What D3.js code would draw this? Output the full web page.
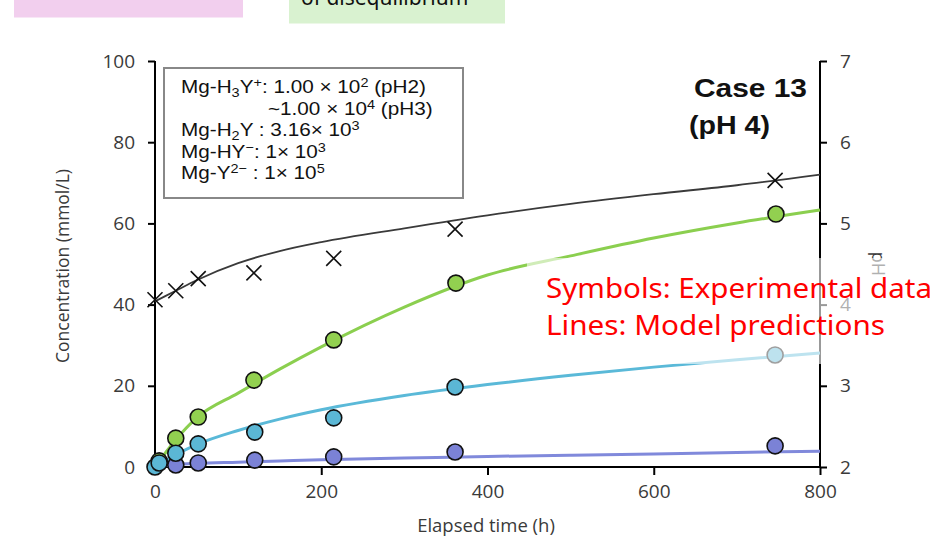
<!DOCTYPE html>
<html><head><meta charset="utf-8">
<script src="https://cdn.jsdelivr.net/npm/d3@7"></script>
<style>body{margin:0;background:#fff}svg{display:block}</style>
</head><body>
<svg id="c" width="952" height="539"></svg>
<script>
// ---- data ----
const xTicks = [0, 200, 400, 600, 800];
const yTicks = [0, 20, 40, 60, 80, 100];
const phTicks = [2, 3, 4, 5, 6, 7];

// experimental
const expTimeGreen = [5, 25, 52, 119, 215, 362, 747];
const expGreen     = [1.5, 7.1, 12.3, 21.4, 31.3, 45.3, 62.3];
const expTimeCyan  = [0, 5, 25, 52, 120, 215, 361, 746];
const expCyan      = [0, 1.0, 3.4, 5.7, 8.6, 12.1, 19.7, 27.6];
const expTimePurple= [25, 52, 120, 215, 361, 746];
const expPurple    = [0.5, 1.0, 1.7, 2.5, 3.7, 5.2];
const expTimePH    = [0, 25, 52, 119, 215, 361, 746];
const expPH        = [4.06, 4.17, 4.32, 4.39, 4.57, 4.93, 5.53];

// model
const modelTime   = [0, 25, 50, 100, 150, 200, 300, 400, 500, 600, 700, 800];
const modelGreen  = [0, 6.7, 12.1, 18.2, 24.1, 29.6, 39.4, 47.3, 52.0, 56.4, 60.1, 63.3];
const modelCyan   = [0, 3.0, 5.5, 9.0, 11.8, 14.1, 17.6, 20.3, 22.6, 24.6, 26.4, 28.1];
const modelPurple = [0, 0.6, 0.9, 1.2, 1.5, 1.8, 2.2, 2.6, 2.9, 3.2, 3.6, 3.9];
const modelPH     = [4.04, 4.17, 4.30, 4.51, 4.66, 4.77, 4.94, 5.10, 5.24, 5.36, 5.47, 5.60];

const svg = d3.select("#c");
const x = d3.scaleLinear().domain([0, 800]).range([155, 820]);
const y = d3.scaleLinear().domain([0, 100]).range([467, 61]);
const yp = d3.scaleLinear().domain([2, 7]).range([467, 61]);

// top decorations
svg.append("rect").attr("x",14).attr("y",0).attr("width",229).attr("height",17.5).attr("fill","#f2cfee");
svg.append("rect").attr("x",289).attr("y",0).attr("width",216).attr("height",23.5).attr("fill","#d9f2d0");
svg.append("text").attr("x",301).attr("y",5).attr("font-family","Noto Sans").attr("font-size",21).attr("fill","#111").text("of disequilibrium");

// axes
const tickFont = "Open Sans";
const ax = svg.append("g").attr("transform","translate(0,467)").call(d3.axisBottom(x).tickValues(xTicks).tickSize(8).tickPadding(10));
const ay = svg.append("g").attr("transform","translate(155,0)").call(d3.axisLeft(y).tickValues(yTicks).tickSize(7).tickPadding(13));
const ayp = svg.append("g").attr("transform","translate(820,0)").call(d3.axisRight(yp).tickValues(phTicks).tickFormat(d3.format("d")).tickSize(7).tickPadding(13));
[ax, ay, ayp].forEach(g => {
  g.selectAll("path.domain").attr("stroke","#000").attr("stroke-width",2);
  g.selectAll(".tick line").attr("stroke","#000").attr("stroke-width",2);
  g.selectAll("text").attr("font-family",tickFont).attr("font-size",19).attr("fill","#3a3a3a");
});
ax.select("path.domain").attr("d","M155,0H820");
ay.select("path.domain").attr("d","M0,61V467");
ayp.select("path.domain").attr("d","M0,61V467");

// axis titles
svg.append("text").attr("x",486).attr("y",532).attr("text-anchor","middle")
  .attr("font-family",tickFont).attr("font-size",18.5).attr("fill","#3a3a3a").text("Elapsed time (h)");
svg.append("text").attr("transform","translate(69,266) rotate(-90)").attr("text-anchor","middle")
  .attr("font-family",tickFont).attr("font-size",17.5).attr("fill","#3a3a3a").text("Concentration (mmol/L)");
svg.append("text").attr("transform","translate(872,264) rotate(90)").attr("text-anchor","middle")
  .attr("font-family",tickFont).attr("font-size",18).attr("fill","#3a3a3a").text("pH");

// model lines
const line = (sc, vals) => d3.line().x((d,i)=>x(modelTime[i])).y(d=>sc(d)).curve(d3.curveMonotoneX)(vals);
svg.append("path").attr("d",line(yp, modelPH)).attr("fill","none").attr("stroke","#3a3a3a").attr("stroke-width",1.8);
svg.append("path").attr("d",line(y, modelGreen)).attr("fill","none").attr("stroke","#8bcf4f").attr("stroke-width",3);
svg.append("path").attr("d",line(y, modelCyan)).attr("fill","none").attr("stroke","#5ab9d8").attr("stroke-width",3);
svg.append("path").attr("d",line(y, modelPurple)).attr("fill","none").attr("stroke","#8089db").attr("stroke-width",3);

// crosses
const cr = 7.5;
svg.append("g").selectAll("path").data(expPH).join("path")
  .attr("d",(d,i)=>{const cx=x(expTimePH[i]), cy=yp(d);return `M${cx-cr},${cy-cr}L${cx+cr},${cy+cr}M${cx-cr},${cy+cr}L${cx+cr},${cy-cr}`;})
  .attr("stroke","#111").attr("stroke-width",1.6).attr("fill","none");

// circles
function dots(times, vals, fill){
  svg.append("g").selectAll("circle").data(vals).join("circle")
    .attr("cx",(d,i)=>x(times[i])).attr("cy",d=>y(d)).attr("r",8)
    .attr("fill",fill).attr("stroke","#111").attr("stroke-width",1.6);
}
dots(expTimeGreen, expGreen, "#92d050");
dots(expTimePurple, expPurple, "#7b82d6");
dots(expTimeCyan, expCyan, "#5bb7d5");

// constants box
svg.append("rect").attr("x",164).attr("y",68).attr("width",299).attr("height",130)
  .attr("fill","#fff").attr("stroke","#888").attr("stroke-width",2);
const lf = "Liberation Sans", fs = 18.5;
function ltext(xp, yb, parts){
  const t = svg.append("g").attr("transform",`translate(${xp},${yb}) scale(1.12,1)`)
    .append("text").attr("x",0).attr("y",0).attr("font-family",lf).attr("font-size",fs).attr("fill","#111");
  parts.forEach(p=>{
    const s = t.append("tspan").text(p[0]);
    if(p[1]==="sub") s.attr("font-size",fs*0.7).attr("baseline-shift","-25%");
    if(p[1]==="sup") s.attr("font-size",fs*0.7).attr("baseline-shift","45%");
  });
}
ltext(181, 93, [["Mg-H"],["3","sub"],["Y"],["+","sup"],[": 1.00 × 10"],["2","sup"],[" (pH2)"]]);
ltext(268, 114.5, [["~1.00 × 10"],["4","sup"],[" (pH3)"]]);
ltext(181, 136, [["Mg-H"],["2","sub"],["Y : 3.16× 10"],["3","sup"]]);
ltext(181, 157.5, [["Mg-HY"],["−","sup"],[": 1× 10"],["3","sup"]]);
ltext(181, 179, [["Mg-Y"],["2−","sup"],[" : 1× 10"],["5","sup"]]);

// case label
svg.append("g").attr("transform","translate(807,97) scale(1.15,1)").append("text").attr("text-anchor","end").attr("font-family","Liberation Sans")
  .attr("font-weight","bold").attr("font-size",26).attr("fill","#111").text("Case 13");
svg.append("g").attr("transform","translate(689,134) scale(1.1,1)").append("text").attr("font-family","Liberation Sans")
  .attr("font-weight","bold").attr("font-size",26).attr("fill","#111").text("(pH 4)");

// overlay note
svg.append("rect").attr("x",527).attr("y",258).attr("width",425).attr("height",106).attr("fill","#fff").attr("opacity",0.6);
svg.append("text").attr("x",546).attr("y",298).attr("font-family","Noto Sans").attr("font-size",28)
  .attr("textLength",386).attr("lengthAdjust","spacingAndGlyphs").attr("fill","#ff0000").text("Symbols: Experimental data");
svg.append("text").attr("x",546).attr("y",335).attr("font-family","Noto Sans").attr("font-size",28)
  .attr("textLength",339).attr("lengthAdjust","spacingAndGlyphs").attr("fill","#ff0000").text("Lines: Model predictions");
</script>
</body></html>
